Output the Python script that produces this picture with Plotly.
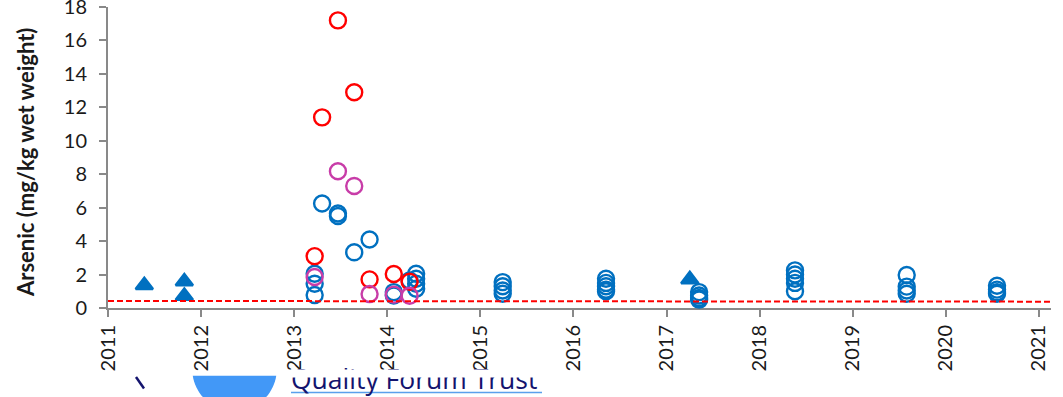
import numpy as np
import plotly.graph_objects as go

_BLUE = "#0070C0"
_RED = "#FF0000"
_MAGENTA = "#C83CA8"
_AXIS = "#898989"
_FONT = "Lato"

# triangles (filled)
tri_x = [2011.39, 2011.82, 2011.82, 2012.72, 2012.72, 2017.25]
tri_y = [1.36, 1.58, 0.72, -0.12, -0.02, 1.71]

# blue open circles
blue_x = [2013.22, 2013.22, 2013.22, 2013.30, 2013.47, 2013.47, 2013.645, 2013.81,
          2014.07, 2014.07, 2014.24,
          2014.31, 2014.31, 2014.31, 2014.31,
          2015.24, 2015.24, 2015.24, 2015.24,
          2016.35, 2016.35, 2016.35, 2016.35, 2016.35,
          2017.35, 2017.35, 2017.35, 2017.35,
          2018.38, 2018.38, 2018.38, 2018.38, 2018.38,
          2019.58, 2019.58, 2019.58, 2019.58,
          2020.55, 2020.55, 2020.55, 2020.55]
blue_y = [2.05, 1.45, 0.78, 6.25, 5.65, 5.50, 3.33, 4.10,
          0.95, 0.75, 1.65,
          2.05, 1.75, 1.45, 1.15,
          1.55, 1.30, 1.05, 0.85,
          1.75, 1.50, 1.30, 1.10, 1.00,
          0.95, 0.75, 0.60, 0.50,
          2.25, 2.00, 1.75, 1.50, 1.00,
          1.97, 1.28, 1.05, 0.85,
          1.33, 1.10, 0.95, 0.85]

# red open circles
red_x = [2013.22, 2013.30, 2013.47, 2013.645, 2013.81, 2014.07, 2014.24]
red_y = [3.10, 11.40, 17.20, 12.90, 1.71, 2.03, 1.57]

# magenta open circles
mag_x = [2013.22, 2013.47, 2013.645, 2013.81, 2014.07, 2014.24]
mag_y = [1.85, 8.18, 7.30, 0.84, 0.80, 0.73]

# dashed reference line
ref_x = [2011, 2021.13]
ref_y = [0.42, 0.38]

years = list(range(2011, 2022))
year_labels = [str(y) for y in years]

fig = go.Figure()
circle = dict(symbol="circle-open", size=16, line=dict(width=2.4))
fig.add_trace(go.Scatter(x=blue_x, y=blue_y, mode="markers", cliponaxis=False,
                         marker=dict(color=_BLUE, **circle)))
fig.add_trace(go.Scatter(x=red_x, y=red_y, mode="markers", cliponaxis=False,
                         marker=dict(color=_RED, **circle)))
fig.add_trace(go.Scatter(x=mag_x, y=mag_y, mode="markers", cliponaxis=False,
                         marker=dict(color=_MAGENTA, **circle)))
fig.add_trace(go.Scatter(x=tri_x, y=tri_y, mode="markers", cliponaxis=False,
                         marker=dict(symbol="triangle-up", size=15, color=_BLUE,
                                     line=dict(color=_BLUE, width=2.5))))
fig.add_trace(go.Scatter(x=ref_x, y=ref_y, mode="lines", cliponaxis=False,
                         line=dict(color=_RED, width=2, dash="6px,3px")))

# page geometry (pixels) -> paper coords
L, R, T, B = 108, 1051, 7, 308


def px(x):
    return (x - L) / (R - L)


def py(y):
    return (B - y) / (B - T)


# bits of the surrounding web page peeking in under the chart
cx, cy, rad = 234.5, 369.0, 42.3
t = np.linspace(np.arcsin((375.7 - cy) / rad), np.pi - np.arcsin((375.7 - cy) / rad), 40)
pts = [(cx + rad * np.cos(a), cy + rad * np.sin(a)) for a in t]
path = "M " + " L ".join(f"{px(a):.5f},{py(b):.5f}" for a, b in pts) + " Z"

shapes = [
    dict(type="path", path=path, xref="paper", yref="paper",
         fillcolor="#4298F7", line=dict(width=0), layer="above"),
    dict(type="line", xref="paper", yref="paper", x0=px(291), x1=px(542),
         y0=py(392.5), y1=py(392.5), line=dict(color="#5AA0EC", width=1.5)),
    dict(type="line", xref="paper", yref="paper", x0=px(136), x1=px(144),
         y0=py(377), y1=py(388.5), line=dict(color="#14146E", width=2.5)),
]

annotations = [
    dict(text="<b>Arsenic (mg/kg wet weight)</b>", textangle=-90, showarrow=False,
         xref="paper", yref="paper", x=0, y=py(162.5), xanchor="center",
         yanchor="middle", xshift=-(L - 25.5),
         font=dict(family=_FONT, size=22, color="#1A1A1A")),
    dict(text="Quality Forum Trust", showarrow=False, xref="paper", yref="paper",
         x=px(289), y=py(379), xanchor="left", yanchor="middle",
         font=dict(family="Open Sans", size=26.5, color="#14146E")),
    dict(text=" ", showarrow=False, xref="paper", yref="paper",
         x=px(284), y=py(369), xanchor="left", yanchor="top",
         width=268, height=6.5, borderpad=0, bgcolor="white"),
]

fig.update_layout(
    width=1063, height=397,
    margin=dict(l=L, r=1063 - R, t=T, b=397 - B, autoexpand=False),
    paper_bgcolor="white", plot_bgcolor="white",
    showlegend=False,
    font=dict(family=_FONT, size=20, color="#1A1A1A"),
    shapes=shapes, annotations=annotations,
)
fig.update_xaxes(
    range=[2011, 2021.13], tickvals=years, ticktext=year_labels, tickangle=-90,
    showgrid=False, zeroline=False, showline=True, linecolor=_AXIS, linewidth=2,
    ticks="outside", ticklen=7, tickwidth=2, tickcolor=_AXIS, layer="below traces",
    ticklabeloverflow="allow", automargin=False,
)
fig.update_yaxes(
    range=[0, 18], dtick=2, showgrid=False, zeroline=False, showline=True,
    linecolor=_AXIS, linewidth=2, ticks="outside", ticklen=7, tickwidth=2,
    tickcolor=_AXIS, ticklabelstandoff=8, layer="below traces",
    ticklabeloverflow="allow", automargin=False,
)

fig.write_html("out.html", config={"displayModeBar": False},
               post_script="document.body.style.margin='0';"
                           "document.body.style.overflow='hidden';")
